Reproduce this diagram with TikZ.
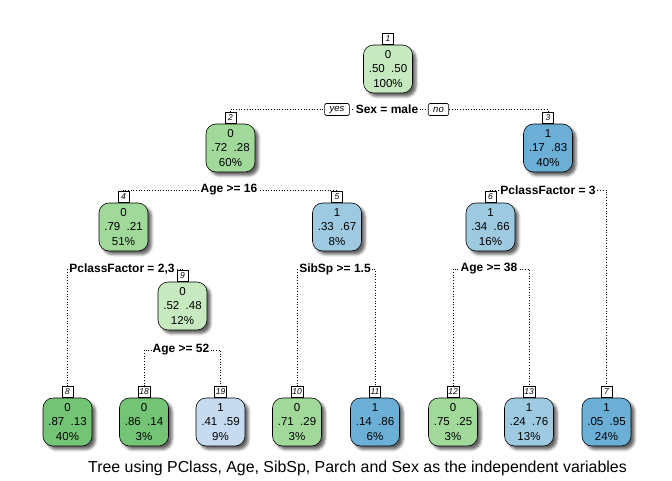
\documentclass[tikz,border=0pt]{standalone}
\usepackage{fontspec}
\setmainfont{Liberation Sans}
\usetikzlibrary{shadows.blur}

% RColorBrewer greens (class 0) and blues (class 1)
\definecolor{gnA}{HTML}{C7E9C0}
\definecolor{gnB}{HTML}{A1D99B}
\definecolor{gnC}{HTML}{74C476}
\definecolor{buA}{HTML}{C6DBEF}
\definecolor{buB}{HTML}{9ECAE1}
\definecolor{buC}{HTML}{6BAED6}

\tikzset{
  treebox/.style={draw=black, line width=0.6pt, rounded corners=10pt,
    minimum width=49pt, minimum height=48pt, inner sep=0pt, align=center,
    font=\fontsize{11.5}{14.5}\selectfont,
    blur shadow={shadow xshift=3.5pt, shadow yshift=-3.5pt,
      shadow blur radius=2.5pt, shadow opacity=60}},
  tagbox/.style={draw=black, fill=white, line width=0.6pt, minimum width=11pt,
    minimum height=11pt, inner sep=1.2pt, anchor=south,
    font=\fontsize{8.5}{9}\selectfont\itshape},
  conn/.style={line width=0.7pt, dash pattern=on 0.7pt off 2pt},
  splitlab/.style={fill=white, inner sep=1pt,
    font=\fontsize{12}{12}\selectfont\bfseries},
  dirlab/.style={draw=black, fill=white, line width=0.6pt, rounded corners=1.5pt,
    inner xsep=5pt, inner ysep=1.5pt, minimum height=12pt,
    font=\fontsize{9.5}{10}\selectfont\itshape},
}

\begin{document}
\begin{tikzpicture}[x=1pt, y=-1pt]
\useasboundingbox (0,0) rectangle (672,480);

% internal nodes
\node[treebox, fill=gnA] (n1) at (388,69)    {0\\.50\ \ .50\\100\%};
\node[treebox, fill=gnB] (n2) at (230.5,148) {0\\.72\ \ .28\\60\%};
\node[treebox, fill=buC] (n3) at (548,148)   {1\\.17\ \ .83\\40\%};
\node[treebox, fill=gnB] (n4) at (123.5,227) {0\\.79\ \ .21\\51\%};
\node[treebox, fill=buB] (n5) at (337,227)   {1\\.33\ \ .67\\8\%};
\node[treebox, fill=buB] (n6) at (490.5,227) {1\\.34\ \ .66\\16\%};
\node[treebox, fill=gnA] (n9) at (182.5,306) {0\\.52\ \ .48\\12\%};

% leaves
\node[treebox, fill=gnC] (n8)  at (67.5,422)  {0\\.87\ \ .13\\40\%};
\node[treebox, fill=gnC] (n18) at (144,422)   {0\\.86\ \ .14\\3\%};
\node[treebox, fill=buA] (n19) at (220.5,422) {1\\.41\ \ .59\\9\%};
\node[treebox, fill=gnB] (n10) at (297,422)   {0\\.71\ \ .29\\3\%};
\node[treebox, fill=buC] (n11) at (375,422)   {1\\.14\ \ .86\\6\%};
\node[treebox, fill=gnB] (n12) at (453,422)   {0\\.75\ \ .25\\3\%};
\node[treebox, fill=buB] (n13) at (529,422)   {1\\.24\ \ .76\\13\%};
\node[treebox, fill=buC] (n7)  at (606.5,422) {1\\.05\ \ .95\\24\%};

% node number tags
\foreach \k in {1,2,3,4,5,6,7,8,9,10,11,12,13,18,19}
  \node[tagbox] (t\k) at (n\k.north) {\k};

% split points
\coordinate (s1) at (388,109.5);
\coordinate (s2) at (230.5,190);
\coordinate (s3) at (548,190);
\coordinate (s4) at (123.5,269);
\coordinate (s5) at (337,269);
\coordinate (s6) at (490.5,269);
\coordinate (s9) at (182.5,350);

% connectors
\draw[conn] (t2.north) |- (s1) -| (t3.north);
\draw[conn] (t4.north) |- (s2) -| (t5.north);
\draw[conn] (t6.north) |- (s3) -| (t7.north);
\draw[conn] (t8.north) |- (s4) -| (t9.north);
\draw[conn] (t10.north) |- (s5) -| (t11.north);
\draw[conn] (t12.north) |- (s6) -| (t13.north);
\draw[conn] (t18.north) |- (s9) -| (t19.north);

% split labels
\node[splitlab] (l1) at (387,109.5) {Sex = male};
\node[dirlab] (yes) at (337,109.5) {yes};
\node[dirlab] (no) at (438.5,109.5) {no};
\node[splitlab] (l2) at (229,190) {Age >= 16};
\node[splitlab] (l3) at (548,190) {PclassFactor = 3};
\node[splitlab] (l4) at (122,269) {PclassFactor = 2,3};
\node[splitlab] (l5) at (335,269) {SibSp >= 1.5};
\node[splitlab] (l6) at (489,269) {Age >= 38};
\node[splitlab] (l9) at (181,350) {Age >= 52};

% caption
\node[font=\fontsize{15.9}{16}\selectfont] (cap) at (357.5,468)
  {Tree using PClass, Age, SibSp, Parch and Sex as the independent variables};
\end{tikzpicture}
\end{document}
